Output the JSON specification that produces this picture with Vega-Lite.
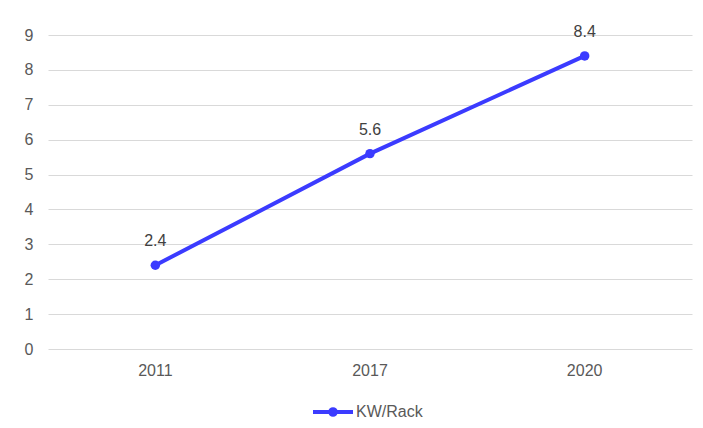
{
  "$schema": "https://vega.github.io/schema/vega-lite/v6.json",
  "width": 644,
  "height": 314,
  "autosize": {"type": "none"},
  "padding": {"left": 48, "top": 35, "right": 11, "bottom": 79},
  "background": "white",
  "config": {
    "view": {"stroke": null},
    "font": "Liberation Sans"
  },
  "data": {
    "values": [
      {"year": "2011", "value": 2.4, "series": "KW/Rack"},
      {"year": "2017", "value": 5.6, "series": "KW/Rack"},
      {"year": "2020", "value": 8.4, "series": "KW/Rack"}
    ]
  },
  "encoding": {
    "x": {
      "field": "year", "type": "ordinal", "title": null,
      "scale": {"type": "band", "paddingInner": 0, "paddingOuter": 0},
      "axis": {"labelAngle": 0, "domain": false, "ticks": false, "labelPadding": 13, "labelFont": "Liberation Sans", "labelFontSize": 16, "labelColor": "#595959"}
    },
    "y": {
      "field": "value", "type": "quantitative", "title": null,
      "scale": {"domain": [0, 9], "nice": false},
      "axis": {"values": [0,1,2,3,4,5,6,7,8,9], "domain": false, "ticks": false, "labelPadding": 15, "gridColor": "#d9d9d9", "gridWidth": 1, "labelFont": "Liberation Sans", "labelFontSize": 16, "labelColor": "#595959"}
    }
  },
  "layer": [
    {
      "mark": {"type": "line", "strokeWidth": 4},
      "encoding": {
        "color": {
          "field": "series", "type": "nominal", "title": null,
          "scale": {"range": ["#3b3bff"]},
          "legend": {
            "orient": "none", "legendX": 263, "legendY": 355,
            "symbolType": "M-1,0L1,0M-0.14,0A0.14,0.14 0 1,1 0.14,0A0.14,0.14 0 1,1 -0.14,0Z",
            "symbolSize": 1600, "symbolStrokeWidth": 4, "symbolFillColor": "#3b3bff",
            "labelFont": "Liberation Sans", "labelFontSize": 16, "labelColor": "#595959", "labelOffset": 1
          }
        }
      }
    },
    {
      "mark": {"type": "point", "filled": true, "size": 90, "opacity": 1, "color": "#3b3bff"}
    },
    {
      "mark": {"type": "text", "dy": -24, "fontSize": 16, "color": "#404040", "font": "Liberation Sans"},
      "encoding": {"text": {"field": "value", "type": "quantitative", "format": ".1f"}}
    }
  ]
}
